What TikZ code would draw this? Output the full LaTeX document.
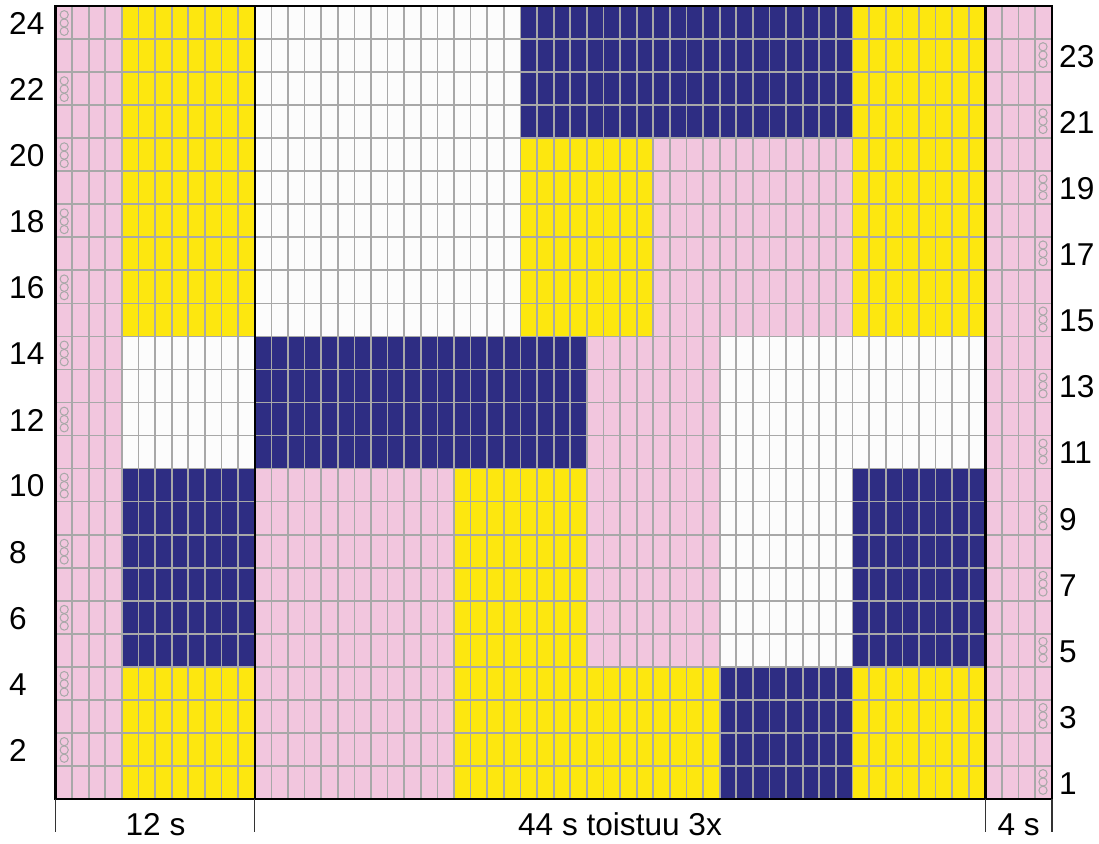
\documentclass[tikz,border=0pt]{standalone}
\usepackage{fontspec}
\setmainfont{Liberation Sans}
\definecolor{kpink}{HTML}{F2C6DE}
\definecolor{kyellow}{HTML}{FDE70F}
\definecolor{knavy}{HTML}{2E2D83}
\definecolor{kwhite}{HTML}{FCFCFC}
\definecolor{kgrid}{HTML}{A8A8A8}
\newcommand\blk[5]{\fill[#1] ({55.5+(#2-1)*16.605},{799-(#4-1)*33.0417}) rectangle ({55.5+#3*16.605},{799-#5*33.0417});}
\tikzset{
  lbl/.style={inner sep=0pt, font=\fontsize{31.6}{36}\selectfont},
  gridline/.style={draw=kgrid, line width=1.7pt},
  cable/.style={draw=kgrid, line width=1pt},
  frame/.style={draw=black, line width=2.4pt},
  tick/.style={draw=black!80, line width=1.4pt}
}
\begin{document}
\begin{tikzpicture}[x=1pt,y=-1pt]
\useasboundingbox (0,0) rectangle (1099,843);
\fill[white] (0,0) rectangle (1099,843);
% base pink
\blk{kpink}{1}{60}{1}{24}
% left section
\blk{kyellow}{5}{12}{15}{24}
\blk{kwhite}{5}{12}{11}{14}
\blk{knavy}{5}{12}{5}{10}
\blk{kyellow}{5}{12}{1}{4}
% middle section
\blk{kwhite}{13}{28}{15}{24}
\blk{knavy}{29}{48}{21}{24}
\blk{kyellow}{49}{56}{15}{24}
\blk{kyellow}{29}{36}{15}{20}
\blk{knavy}{13}{32}{11}{14}
\blk{kwhite}{41}{56}{11}{14}
\blk{kwhite}{41}{48}{5}{10}
\blk{knavy}{49}{56}{5}{10}
\blk{kyellow}{25}{32}{5}{10}
\blk{kyellow}{25}{40}{1}{4}
\blk{knavy}{41}{48}{1}{4}
\blk{kyellow}{49}{56}{1}{4}
% grid lines
\foreach \i in {1,...,59} \draw[gridline] ({55.5+\i*16.605},6) -- ({55.5+\i*16.605},799);
\foreach \j in {1,...,23} \draw[gridline] (55.5,{799-\j*33.0417}) -- (1051.8,{799-\j*33.0417});
% cable symbols
\foreach \r in {2,4,...,24} {
  \foreach \d in {-8.3,0,8.3} \draw[cable] (64.2,{799-(\r-0.5)*33.0417+\d+0.5}) circle (4.1);
}
\foreach \r in {1,3,...,23} {
  \foreach \d in {-8.3,0,8.3} \draw[cable] (1043,{799-(\r-0.5)*33.0417+\d-0.5}) circle (4.1);
}
% frame
\draw[frame] (55.5,6) rectangle (1051.8,799);
\draw[frame] (254.76,6) -- (254.76,799);
\draw[frame] (985.38,6) -- (985.38,799);
% row labels
\foreach \r in {2,4,...,24} \node[lbl, anchor=west] (L\r) at (9,{799-(\r-0.5)*33.0417+1}) {\r};
\foreach \r in {1,3,...,23} \node[lbl, anchor=west] (R\r) at (1059,{799-(\r-0.5)*33.0417+1}) {\r};
% bottom brackets
\coordinate (b0t) at (55.5,799); \coordinate (b0b) at (55.5,832);
\coordinate (b1t) at (254.76,799); \coordinate (b1b) at (254.76,832);
\coordinate (b2t) at (985.38,799); \coordinate (b2b) at (985.38,832);
\coordinate (b3t) at (1051.8,799); \coordinate (b3b) at (1051.8,832);
\draw[tick] (b0t) -- (b0b);
\draw[tick] (b1t) -- (b1b);
\draw[tick] (b2t) -- (b2b);
\draw[tick] (b3t) -- (b3b);
\node[lbl, anchor=base] (s12) at (155.5,835) {12 s};
\node[lbl, anchor=base] (s44) at (620,835) {44 s toistuu 3x};
\node[lbl, anchor=base] (s4) at (1018.6,835) {4 s};
\end{tikzpicture}
\end{document}
